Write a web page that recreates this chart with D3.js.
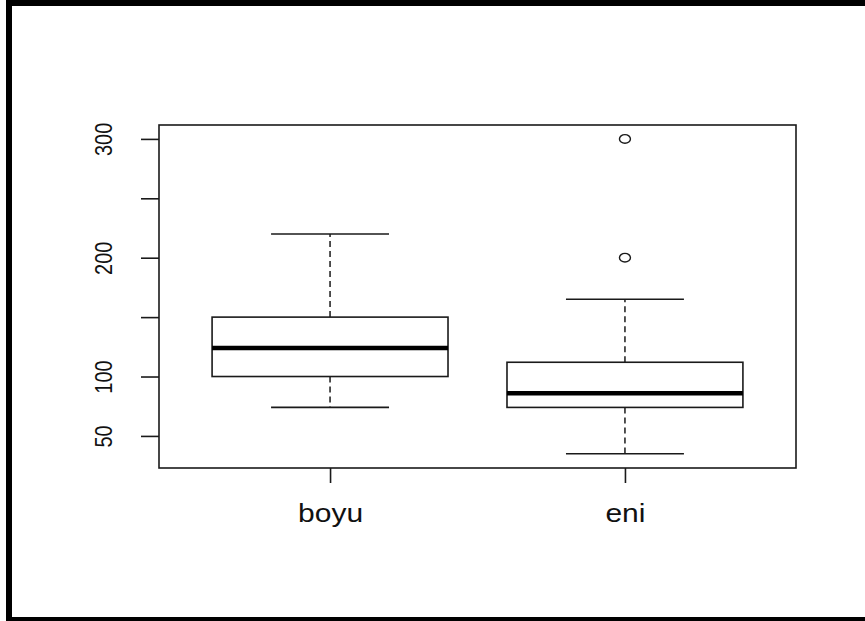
<!DOCTYPE html>
<html>
<head>
<meta charset="utf-8">
<script src="https://cdn.jsdelivr.net/npm/d3@7"></script>
<style>
  html, body { margin: 0; padding: 0; background: #fff; }
  svg { display: block; }
  text { font-family: "Liberation Sans", Arial, sans-serif; fill: #111; }
</style>
</head>
<body>
<svg id="chart" width="865" height="621"></svg>
<script>
// Box plot summaries per group
const categories   = ["boyu", "eni"];
const lowerWhisker = [74, 35];
const q1           = [100, 74];
const medians      = [124, 86];
const q3           = [150, 112];
const upperWhisker = [220, 165];
const outliers     = [[], [300, 200]];

// Axis ticks
const yTicks      = [50, 100, 150, 200, 250, 300];
const yTickLabels = ["50", "100", "", "200", "", "300"];

const svg = d3.select("#chart");

// Outer frame (top, left and bottom black bands)
svg.append("rect").attr("x", 6).attr("y", 0).attr("width", 859).attr("height", 6).attr("fill", "#000");
svg.append("rect").attr("x", 6).attr("y", 0).attr("width", 6).attr("height", 621).attr("fill", "#000");
svg.append("rect").attr("x", 6).attr("y", 617).attr("width", 859).attr("height", 4).attr("fill", "#000");

const plot = { left: 159, right: 796, top: 125, bottom: 468 };

const x = d3.scaleLinear().domain([0.42, categories.length + 0.58]).range([plot.left, plot.right]);
const y = d3.scaleLinear().domain([23, 311.7]).range([plot.bottom, plot.top]);

const ink = "#1a1a1a";
const boxHalf = 0.4, capHalf = 0.2;

const groups = categories.map((c, i) => ({
  name: c, pos: i + 1,
  lo: lowerWhisker[i], q1: q1[i], med: medians[i], q3: q3[i], hi: upperWhisker[i],
  out: outliers[i]
}));

const g = svg.append("g");

groups.forEach(d => {
  // whiskers (dashed)
  g.append("line")
    .attr("x1", x(d.pos)).attr("x2", x(d.pos))
    .attr("y1", y(d.q3)).attr("y2", y(d.hi))
    .attr("stroke", ink).attr("stroke-width", 1.5).attr("stroke-dasharray", "6,4");
  g.append("line")
    .attr("x1", x(d.pos)).attr("x2", x(d.pos))
    .attr("y1", y(d.q1)).attr("y2", y(d.lo))
    .attr("stroke", ink).attr("stroke-width", 1.5).attr("stroke-dasharray", "6,4");
  // caps
  [d.lo, d.hi].forEach(v => {
    g.append("line")
      .attr("x1", x(d.pos - capHalf)).attr("x2", x(d.pos + capHalf))
      .attr("y1", y(v)).attr("y2", y(v))
      .attr("stroke", ink).attr("stroke-width", 1.6);
  });
  // box
  g.append("rect")
    .attr("x", x(d.pos - boxHalf)).attr("width", x(d.pos + boxHalf) - x(d.pos - boxHalf))
    .attr("y", y(d.q3)).attr("height", y(d.q1) - y(d.q3))
    .attr("fill", "#fff").attr("stroke", ink).attr("stroke-width", 1.6);
  // median
  g.append("line")
    .attr("x1", x(d.pos - boxHalf)).attr("x2", x(d.pos + boxHalf))
    .attr("y1", y(d.med)).attr("y2", y(d.med))
    .attr("stroke", "#000").attr("stroke-width", 4.5);
  // outliers
  d.out.forEach(v => {
    g.append("ellipse")
      .attr("cx", x(d.pos)).attr("cy", y(v))
      .attr("rx", 5.5).attr("ry", 4.3)
      .attr("fill", "none").attr("stroke", ink).attr("stroke-width", 1.4);
  });
});

// Plot frame
svg.append("rect")
  .attr("x", plot.left).attr("y", plot.top)
  .attr("width", plot.right - plot.left).attr("height", plot.bottom - plot.top)
  .attr("fill", "none").attr("stroke", ink).attr("stroke-width", 1.6);

// Y axis, labels rotated parallel to the axis
const yAxis = svg.append("g")
  .attr("transform", `translate(${plot.left},0)`)
  .call(d3.axisLeft(y).tickValues(yTicks).tickSize(18).tickFormat((d, i) => yTickLabels[i]));
yAxis.select(".domain").remove();
yAxis.selectAll(".tick line").attr("stroke", ink).attr("stroke-width", 1.6);
yAxis.selectAll(".tick text")
  .attr("x", null).attr("dy", null)
  .attr("text-anchor", "middle")
  .attr("font-size", 20)
  .attr("transform", "translate(-47.5,0) scale(1.2,1) rotate(-90)")
  .attr("fill", "#111");

// X axis
const xAxis = svg.append("g")
  .attr("transform", `translate(0,${plot.bottom})`)
  .call(d3.axisBottom(x).tickValues(groups.map(d => d.pos)).tickSize(15)
    .tickFormat((d, i) => categories[i]));
xAxis.select(".domain").remove();
xAxis.selectAll(".tick line").attr("stroke", ink).attr("stroke-width", 1.6);
xAxis.selectAll(".tick text")
  .attr("y", 54).attr("dy", null)
  .attr("font-size", 25)
  .attr("transform", "scale(1.2,1)")
  .attr("fill", "#111");
</script>
</body>
</html>
